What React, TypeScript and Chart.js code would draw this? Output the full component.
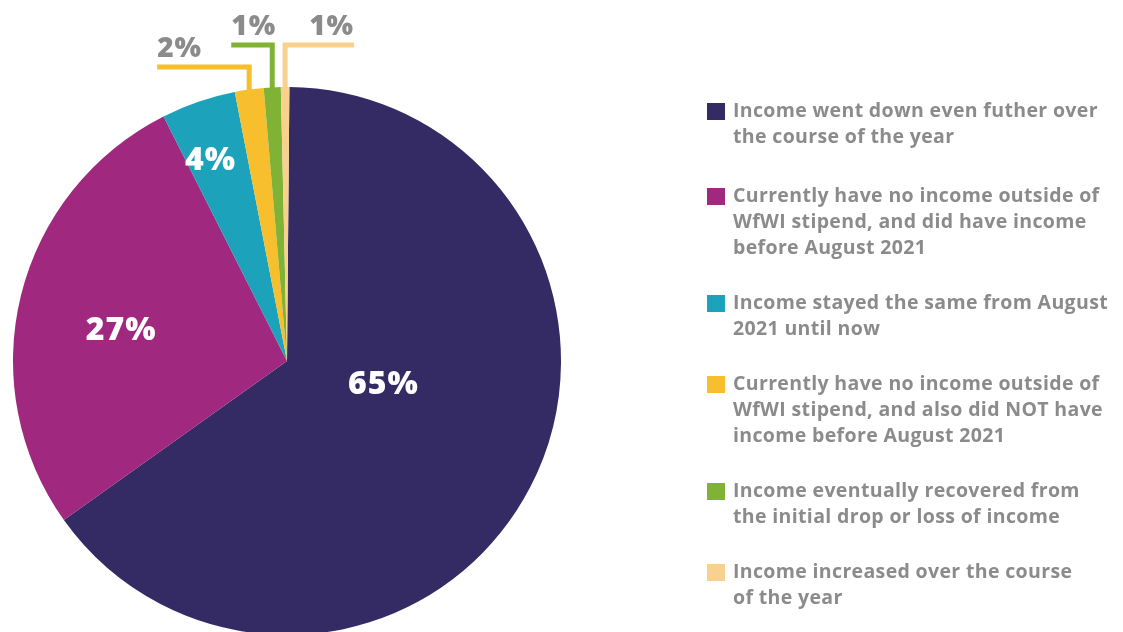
import React, { useEffect, useRef } from "react";
import { Chart, registerables } from "chart.js";

Chart.register(...registerables);

const categories = [
  "Income went down even futher over\nthe course of the year",
  "Currently have no income outside of\nWfWI stipend, and did have income\nbefore August 2021",
  "Income stayed the same from August\n2021 until now",
  "Currently have no income outside of\nWfWI stipend, and also did NOT have\nincome before August 2021",
  "Income eventually recovered from\nthe initial drop or loss of income",
  "Income increased over the course\nof the year",
];
const values = [65.2, 27.5, 4.4, 1.7, 1.0, 0.5];
const valueLabels = ["65%", "27%", "4%", "2%", "1%", "1%"];
const colors = ["#342A64", "#A0287F", "#1CA2BA", "#F7BE2E", "#80B235", "#F9D18F"];

// label placement (style, not data)
type Placement =
  | { kind: "inside"; r: number; shift: number }
  | { kind: "outside"; rise: number; run: number; dir: number };
const placements: Placement[] = [
  { kind: "inside", r: 0.36, shift: -15 },
  { kind: "inside", r: 0.617, shift: -2.7 },
  { kind: "inside", r: 0.79, shift: -1.8 },
  { kind: "outside", rise: 20, run: 92, dir: -1 },
  { kind: "outside", rise: 42, run: 41, dir: -1 },
  { kind: "outside", rise: 42, run: 69, dir: 1 },
];
const legendTops = [97, 182, 289, 370, 477, 558];

const FONT = "'Open Sans', 'Noto Sans', sans-serif";

const labelPlugin = {
  id: "sliceLabels",
  afterDatasetsDraw(chart: any) {
    const ctx = chart.ctx as CanvasRenderingContext2D;
    const meta = chart.getDatasetMeta(0);
    meta.data.forEach((arc: any, i: number) => {
      const { x, y, startAngle, endAngle, outerRadius } = arc.getProps(
        ["x", "y", "startAngle", "endAngle", "outerRadius"],
        true
      );
      const mid = (startAngle + endAngle) / 2;
      const p = placements[i];
      ctx.save();
      (ctx as any).letterSpacing = "1px";
      if (p.kind === "inside") {
        const a = mid + (p.shift * Math.PI) / 180;
        const r = outerRadius * p.r;
        const fs = 32;
        ctx.font = `800 ${fs}px ${FONT}`;
        ctx.fillStyle = "#ffffff";
        ctx.textAlign = "center";
        ctx.textBaseline = "alphabetic";
        ctx.fillText(valueLabels[i], x + r * Math.cos(a), y + r * Math.sin(a) + fs * 0.36);
      } else {
        const x0 = x + outerRadius * Math.cos(mid);
        const y0 = y + outerRadius * Math.sin(mid);
        const yl = y - outerRadius - p.rise;
        const x1 = x0 + p.dir * p.run;
        ctx.strokeStyle = colors[i];
        ctx.lineWidth = 5;
        ctx.lineCap = "butt";
        ctx.lineJoin = "miter";
        ctx.beginPath();
        ctx.moveTo(x0, y0 + 2);
        ctx.lineTo(x0, yl);
        ctx.lineTo(x1, yl);
        ctx.stroke();
        ctx.font = `800 28px ${FONT}`;
        ctx.fillStyle = "#8B8B8B";
        ctx.textAlign = p.dir < 0 ? "left" : "right";
        ctx.textBaseline = "alphabetic";
        ctx.fillText(valueLabels[i], x1, yl - 10);
      }
      ctx.restore();
    });
  },
};

export default function App() {
  const canvasRef = useRef<HTMLCanvasElement | null>(null);

  useEffect(() => {
    if (!canvasRef.current) return;
    const chart = new Chart(canvasRef.current, {
      type: "pie",
      data: {
        labels: categories,
        datasets: [
          {
            data: values,
            backgroundColor: colors,
            borderWidth: 0,
            radius: 274,
          } as any,
        ],
      },
      options: {
        responsive: false,
        animation: false,
        rotation: 0.5,
        layout: { padding: { left: 13, right: 562, top: 90, bottom: 0 } },
        plugins: {
          legend: { display: false },
          tooltip: { enabled: false },
        },
        events: [],
      },
      plugins: [labelPlugin],
    });
    return () => chart.destroy();
  }, []);

  return (
    <div
      style={{
        position: "fixed",
        left: 0,
        top: 0,
        width: 1123,
        height: 632,
        overflow: "hidden",
        background: "#ffffff",
      }}
    >
      <canvas
        ref={canvasRef}
        width={1123}
        height={632}
        style={{ position: "absolute", left: 0, top: 0, width: 1123, height: 632 }}
      />
      {categories.map((c, i) => (
        <div
          key={i}
          style={{
            position: "absolute",
            left: 707,
            top: legendTops[i],
            display: "flex",
            alignItems: "flex-start",
          }}
        >
          <div
            style={{
              width: 18,
              height: 17,
              marginTop: 6,
              background: colors[i],
              flex: "0 0 auto",
            }}
          />
          <div
            style={{
              marginLeft: 8,
              fontFamily: FONT,
              fontWeight: 700,
              fontSize: 19.5,
              letterSpacing: "0.35px",
              lineHeight: "26px",
              color: "#8B8B8B",
              whiteSpace: "pre",
            }}
          >
            {c}
          </div>
        </div>
      ))}
    </div>
  );
}
